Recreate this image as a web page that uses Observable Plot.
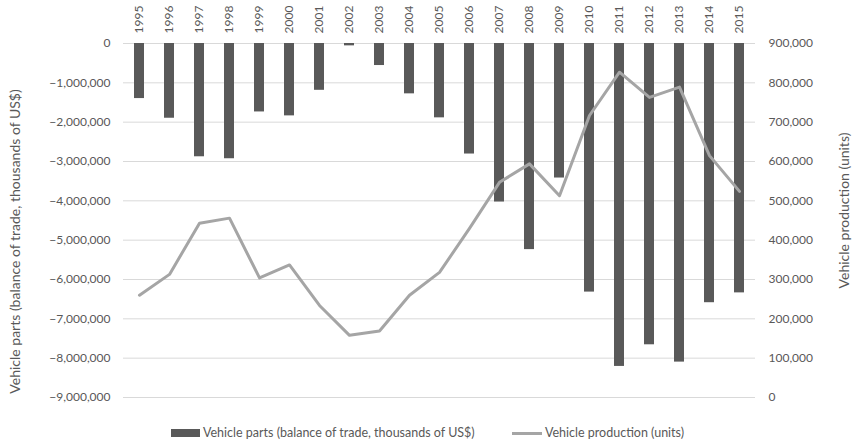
<!DOCTYPE html>
<html><head><meta charset="utf-8">
<script src="https://cdn.jsdelivr.net/npm/d3@7"></script>
<script src="https://cdn.jsdelivr.net/npm/@observablehq/plot@0.6"></script>
<style>
body{margin:0;background:#fff;font-family:Lato,sans-serif;}
#chart svg{display:block;}
#legend{position:relative;width:855px;height:23px;font-size:12.5px;color:#595959;}
#legend .t{position:absolute;top:4px;line-height:18px;white-space:nowrap;}
#legend .sw{position:absolute;left:171px;top:9px;width:29px;height:8px;background:#595959;}
#legend .ln{position:absolute;left:512px;top:11.5px;width:30px;height:3px;background:#a5a5a5;}
</style></head><body><div id="chart"></div>
<div id="legend"><div class="sw"></div><div class="t" id="l1" style="left:203px"></div><div class="ln"></div><div class="t" id="l2" style="left:545px"></div></div>
<script>
const years = [1995,1996,1997,1998,1999,2000,2001,2002,2003,2004,2005,2006,2007,2008,2009,2010,2011,2012,2013,2014,2015];
const partsBalance = [-1400000,-1900000,-2880000,-2930000,-1740000,-1840000,-1190000,-60000,-560000,-1280000,-1890000,-2810000,-4030000,-5240000,-3420000,-6320000,-8210000,-7660000,-8100000,-6590000,-6340000];
const production = [260000,313000,443000,456000,304000,337000,234000,158000,169000,260000,318000,430000,547000,594000,513000,717000,827000,763000,789000,615000,524000];
const leftTicks = [-9000000,-8000000,-7000000,-6000000,-5000000,-4000000,-3000000,-2000000,-1000000,0];
const rightTicks = [0,100000,200000,300000,400000,500000,600000,700000,800000,900000];
const leftTitle = "Vehicle parts (balance of trade, thousands of US$)";
const rightTitle = "Vehicle production (units)";
const legendLabels = ["Vehicle parts (balance of trade, thousands of US$)", "Vehicle production (units)"];

// map right-axis values [0, 900000] onto left-axis domain [-9e6, 0]
const toLeft = v => v * 10 - 9000000;
const fromLeft = v => Math.round((v + 9000000) / 10);
const fmt = d3.format(",");
const data = years.map((y, i) => ({year: String(y), parts: partsBalance[i], prod: production[i]}));

const plot = Plot.plot({
  width: 855, height: 420,
  marginTop: 43, marginBottom: 23, marginLeft: 123, marginRight: 100,
  style: {fontFamily: "Lato, sans-serif", fontSize: "12px", color: "#595959", background: "#fff"},
  x: {type: "band", domain: years.map(String), paddingInner: 0.67, paddingOuter: 0.335},
  y: {domain: [-9000000, 0]},
  marks: [
    Plot.ruleY(leftTicks, {stroke: "#d9d9d9", strokeWidth: 1}),
    Plot.barY(data, {x: "year", y: "parts", fill: "#595959"}),
    Plot.line(data, {x: "year", y: d => toLeft(d.prod), stroke: "#a5a5a5", strokeWidth: 3}),
    Plot.axisX({anchor: "top", tickSize: 0, tickPadding: 10, tickRotate: -90, label: null, fill: "#595959"}),
    Plot.axisY(leftTicks, {anchor: "left", tickSize: 0, tickPadding: 13, tickFormat: fmt, label: null, fill: "#595959"}),
    Plot.axisY(rightTicks.map(toLeft), {anchor: "right", tickSize: 0, tickPadding: 13, tickFormat: d => fmt(fromLeft(d)), label: null, fill: "#595959"}),
    Plot.text([leftTitle], {frameAnchor: "left", textAnchor: "middle", rotate: -90, dx: -108, dy: 21, fontSize: 14, fill: "#595959"}),
    Plot.text([rightTitle], {frameAnchor: "right", textAnchor: "middle", rotate: -90, dx: 89, dy: -10, fontSize: 14, fill: "#595959"})
  ]
});
document.getElementById("chart").appendChild(plot);
document.getElementById("l1").textContent = legendLabels[0];
document.getElementById("l2").textContent = legendLabels[1];
</script>
</body></html>
